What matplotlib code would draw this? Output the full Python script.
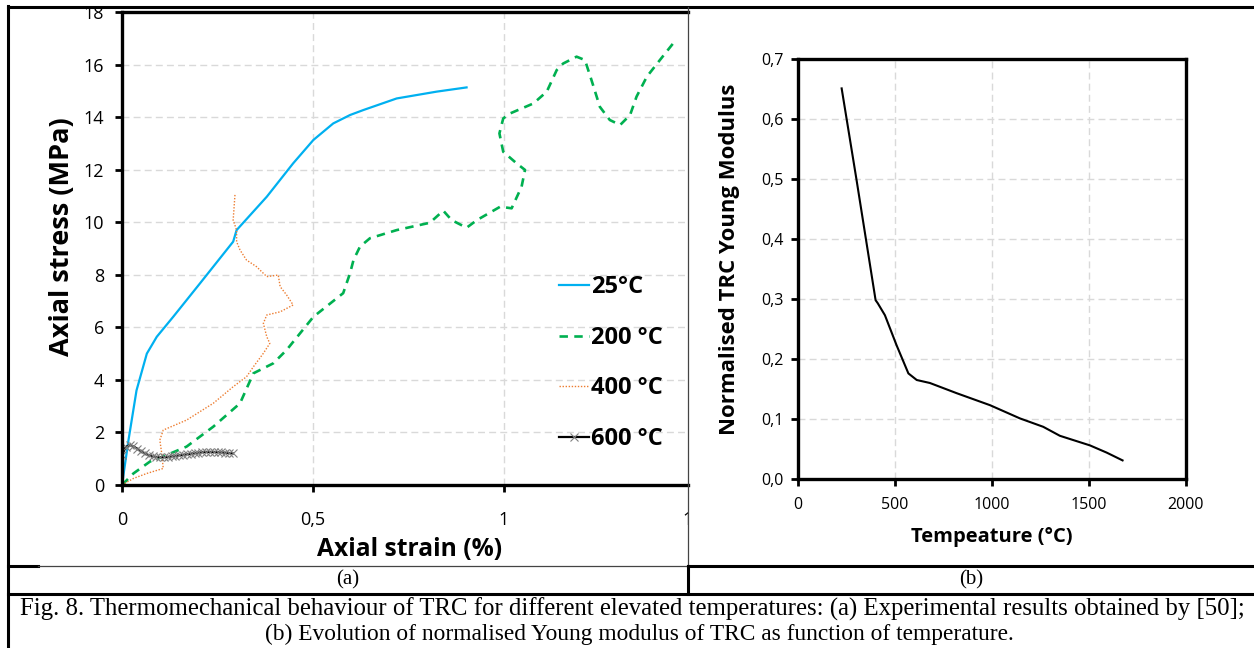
import matplotlib.pyplot as plt
from matplotlib.lines import Line2D
from matplotlib.patches import Rectangle
from matplotlib.transforms import Bbox, TransformedBbox

# ---- data, panel (a): stress-strain curves
strain_25 = [0, 0.017, 0.038, 0.065, 0.091, 0.134, 0.204, 0.291, 0.300, 0.379, 0.448,
             0.501, 0.553, 0.597, 0.632, 0.719, 0.824, 0.902]
stress_25 = [0, 1.71, 3.6, 5.0, 5.64, 6.4, 7.67, 9.26, 9.70, 10.97, 12.24,
             13.13, 13.76, 14.08, 14.27, 14.71, 14.97, 15.13]

strain_200 = [0, 0.030, 0.073, 0.117, 0.169, 0.239, 0.309, 0.344, 0.396, 0.431, 0.501,
              0.553, 0.579, 0.597, 0.606, 0.623, 0.649, 0.719, 0.806, 0.841, 0.863,
              0.902, 0.929, 0.990, 1.020, 1.046, 1.055, 1.033, 0.998, 0.988, 0.998,
              1.016, 1.077, 1.112, 1.138, 1.155, 1.190, 1.212, 1.229, 1.251, 1.277,
              1.304, 1.330, 1.347, 1.374, 1.408, 1.443]
stress_200 = [0, 0.44, 0.89, 1.14, 1.46, 2.22, 3.11, 4.25, 4.63, 5.14, 6.40,
              7.0, 7.3, 8.06, 8.56, 9.07, 9.39, 9.70, 9.98, 10.44, 10.08,
              9.79, 10.08, 10.59, 10.53, 11.35, 11.99, 12.24, 12.68, 13.38, 13.95,
              14.14, 14.52, 14.97, 15.79, 16.04, 16.30, 16.17, 15.41, 14.39, 13.89,
              13.70, 14.08, 14.78, 15.54, 16.17, 16.81]

strain_400 = [0, 0.030, 0.065, 0.108, 0.104, 0.099, 0.108, 0.169, 0.239, 0.291, 0.326,
              0.344, 0.370, 0.387, 0.379, 0.370, 0.379, 0.414, 0.448, 0.431, 0.414,
              0.409, 0.379, 0.352, 0.326, 0.309, 0.300, 0.300, 0.291, 0.296]
stress_400 = [0, 0.25, 0.44, 0.63, 1.20, 1.71, 2.09, 2.47, 3.11, 3.74, 4.12,
              4.50, 5.01, 5.39, 5.64, 6.15, 6.47, 6.59, 6.85, 7.23, 7.55,
              7.99, 7.93, 8.31, 8.56, 8.94, 9.26, 9.70, 10.08, 11.10]

strain_600 = [0, 0.01, 0.02, 0.03, 0.04, 0.05, 0.06, 0.07, 0.08, 0.09, 0.10, 0.11,
              0.12, 0.13, 0.14, 0.15, 0.16, 0.17, 0.18, 0.19, 0.20, 0.21, 0.22,
              0.23, 0.24, 0.25, 0.26, 0.27, 0.28, 0.29]
stress_600 = [1.15, 1.45, 1.52, 1.47, 1.38, 1.28, 1.20, 1.13, 1.09, 1.07, 1.06, 1.06,
              1.07, 1.09, 1.11, 1.13, 1.15, 1.17, 1.19, 1.21, 1.23, 1.25, 1.26,
              1.26, 1.26, 1.25, 1.24, 1.23, 1.22, 1.20]

labels_a = ['25°C', '200 °C', '400 °C', '600 °C']

# ---- data, panel (b): normalised Young modulus vs temperature
temp_b = [225, 302, 400, 411, 448, 508, 569, 612, 680, 818, 990, 1144, 1264,
          1350, 1505, 1591, 1673]
modulus_b = [0.651, 0.498, 0.298, 0.293, 0.273, 0.223, 0.176, 0.165, 0.160, 0.143,
             0.123, 0.101, 0.087, 0.072, 0.056, 0.044, 0.031]

caption_1 = ('Fig. 8. Thermomechanical behaviour of TRC for different elevated temperatures: '
             '(a) Experimental results obtained by [50];')
caption_2 = '(b) Evolution of normalised Young modulus of TRC as function of temperature.'

W, H = 1254, 648
plt.rcParams['font.family'] = ['Open Sans', 'DejaVu Sans']


def fx(x):
    return x / W


def fy(y):
    return 1 - y / H


fig = plt.figure(figsize=(W / 100, H / 100), dpi=100)

# ---------- panel (a)
ax = fig.add_axes([fx(122), fy(485), fx(688 - 122), (485 - 12) / H])
ax.set_xlim(0, 566 / 382)
ax.set_ylim(0, 18)
ax.grid(True, color='#d9d9d9', linestyle=(0, (5, 3)), linewidth=1)
ax.set_axisbelow(True)
ax.plot(strain_25, stress_25, color='#00b0f0', lw=1.6, label=labels_a[0])
ax.plot(strain_200, stress_200, color='#00b050', lw=1.9, linestyle=(0, (3.2, 2.4)),
        label=labels_a[1])
ax.plot(strain_400, stress_400, color='#ed7d31', lw=1.0, linestyle=(0, (1, 1.2)),
        label=labels_a[2])
ax.plot(strain_600, stress_600, color='black', lw=1.6, marker='x', ms=6,
        mec='#808080', mew=0.8, label=labels_a[3])
ax.set_xticks([0, 0.5, 1])
ax.set_xticklabels(['0', '0,5', '1'])
ax.set_yticks(range(0, 19, 2))
ax.tick_params(labelsize=13, width=2, length=5, direction='out', colors='black')
ax.tick_params(axis='x', pad=14)
ax.tick_params(axis='y', pad=8)
for s in ['left', 'bottom', 'top']:
    ax.spines[s].set_linewidth(2.4)
ax.spines['right'].set_visible(False)
ax.set_xlabel('Axial strain (%)', fontsize=17.7, fontweight='bold', va='center')
ax.xaxis.set_label_coords((410 - 122) / 566, -(549 - 485) / 473)
ax.set_ylabel('Axial stress (MPa)', fontsize=19.5, fontweight='bold', va='center')
ax.yaxis.set_label_coords((62 - 122) / 566, (485 - 237) / 473)
leg = ax.legend(loc='upper left', bbox_to_anchor=(fx(550), fy(266)),
                bbox_transform=fig.transFigure, frameon=False,
                prop={'size': 17, 'weight': 'bold'}, handlelength=1.25,
                handletextpad=0.1, labelspacing=1.12, borderaxespad=0)

# cropped "1,5" tick label at the right edge of the cell
t15 = ax.text(1.5, -0.074, '1,5', transform=ax.get_xaxis_transform(), ha='center',
              va='center', fontsize=13)
t15.set_clip_box(TransformedBbox(Bbox([[0, 0], [fx(688), 1]]), fig.transFigure))
t15.set_clip_on(True)

# ---------- panel (b)
bx = fig.add_axes([fx(798), fy(479), fx(388), 420 / H])
bx.set_xlim(0, 2000)
bx.set_ylim(0, 0.7)
bx.grid(True, color='#d9d9d9', linestyle=(0, (5, 3)), linewidth=1)
bx.set_axisbelow(True)
bx.plot(temp_b, modulus_b, color='black', lw=1.5)
bx.set_xticks([0, 500, 1000, 1500, 2000])
bx.set_yticks([i / 10 for i in range(8)])
bx.set_yticklabels([f'{i / 10:.1f}'.replace('.', ',') for i in range(8)])
bx.tick_params(labelsize=11.5, width=2, length=5, direction='out', colors='black')
bx.tick_params(axis='x', pad=8)
bx.tick_params(axis='y', pad=5)
for s in bx.spines.values():
    s.set_linewidth(2.4)
bx.set_xlabel('Tempeature (°C)', fontsize=14.5, fontweight='bold', va='center')
bx.xaxis.set_label_coords(0.5, -(537 - 479) / 420)
bx.set_ylabel('Normalised TRC Young Modulus', fontsize=15.9, fontweight='bold', va='center')
bx.yaxis.set_label_coords((730 - 798) / 388, (479 - 259) / 420)

# ---------- table frame
fig.patches.append(Rectangle((fx(38), fy(7)), fx(650), 7 / H, transform=fig.transFigure,
                             facecolor='white', edgecolor='none', zorder=5))


def hline(y, x0, x1, lw=2.2, color='black'):
    fig.lines.append(Line2D([fx(x0), fx(x1)], [fy(y), fy(y)], transform=fig.transFigure,
                            color=color, lw=lw, zorder=6))


def vline(x, y0, y1, lw=2.2, color='black'):
    fig.lines.append(Line2D([fx(x), fx(x)], [fy(y0), fy(y1)], transform=fig.transFigure,
                            color=color, lw=lw, zorder=6))


hline(7, 8, 1254)
vline(8, 6, 648)
hline(566, 8, 38)
hline(566, 38, 688, lw=0.9, color='#444444')
hline(566, 688, 1254)
vline(688, 7, 566, lw=0.9, color='#444444')
vline(688, 566, 594)
hline(594, 8, 1254)

serif = ['Liberation Serif', 'DejaVu Serif']
fig.text(fx(348), fy(580), '(a)', ha='center', va='center', fontsize=15, family=serif)
fig.text(fx(971), fy(580), '(b)', ha='center', va='center', fontsize=15, family=serif)
fig.text(fx(632), fy(609), caption_1, ha='center', va='center', fontsize=17.8, family=serif)
fig.text(fx(639), fy(634), caption_2, ha='center', va='center', fontsize=16.8, family=serif)

fig.savefig('out.png', dpi=100)
